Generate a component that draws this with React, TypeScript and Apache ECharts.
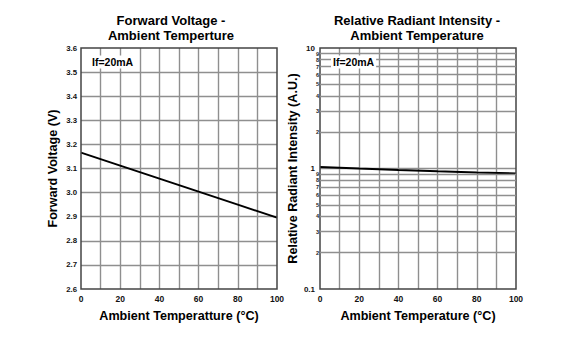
import React, { useEffect, useRef } from "react";
import * as echarts from "echarts";

const temps = [0, 20, 40, 60, 80, 100];
const forwardVoltage = [3.166, 3.112, 3.058, 3.004, 2.95, 2.896];
const relIntensity = [1.03, 1.0, 0.972, 0.948, 0.925, 0.91];
const logMinorValues = [0.2, 0.3, 0.4, 0.5, 0.6, 0.7, 0.8, 0.9, 2, 3, 4, 5, 6, 7, 8, 9];
const leftTitle = ["Forward Voltage -", "Ambient Temperture"];
const rightTitle = ["Relative Radiant Intensity -", "Ambient Temperature"];
const noteText = "If=20mA";

const FONT = '"Liberation Sans", Arial, sans-serif';
const GRID_COLOR = "#8f8f8f";
const GRID_WIDTH = 1.4;

export default function App() {
  const ref = useRef<HTMLDivElement>(null);
  useEffect(() => {
    document.body.style.margin = "0";
    const chart = echarts.init(ref.current!, null, { renderer: "svg" });
    const axisLabel = { fontFamily: FONT, fontWeight: "bold", color: "#111" };
    const nameStyle = { fontFamily: FONT, fontWeight: "bold", fontSize: 12.6, color: "#000" };
    const gridLine = { color: GRID_COLOR, width: GRID_WIDTH };
    const xAxisBase = (gridIndex: number, name: string) => ({
      type: "value",
      gridIndex,
      min: 0,
      max: 100,
      interval: 20,
      name,
      nameLocation: "middle",
      nameGap: 20,
      nameTextStyle: nameStyle,
      axisLine: { show: false },
      axisTick: { show: false },
      axisLabel: { ...axisLabel, fontSize: 8.5, margin: 5 },
      splitLine: { show: true, showMinLine: false, showMaxLine: false, lineStyle: gridLine },
      minorTick: { show: false, splitNumber: 2 },
      minorSplitLine: { show: true, lineStyle: gridLine },
    });
    const option: any = {
      animation: false,
      backgroundColor: "#fff",
      textStyle: { fontFamily: FONT },
      grid: [
        { left: 81, top: 48, width: 196, height: 241, show: true, z: 4, borderColor: "#444", borderWidth: 1.5, backgroundColor: "transparent" },
        { left: 320, top: 48, width: 196, height: 241, show: true, z: 4, borderColor: "#444", borderWidth: 1.5, backgroundColor: "transparent" },
      ],
      xAxis: [xAxisBase(0, "Ambient Temperatture (°C)"), xAxisBase(1, "Ambient Temperature (°C)")],
      yAxis: [
        {
          type: "value",
          gridIndex: 0,
          min: 2.6,
          max: 3.6,
          interval: 0.1,
          name: "Forward Voltage (V)",
          nameLocation: "middle",
          nameGap: 22,
          nameTextStyle: nameStyle,
          axisLine: { show: false },
          axisTick: { show: false },
          axisLabel: { ...axisLabel, fontSize: 7.8, margin: 4, formatter: (v: number) => v.toFixed(1) },
          splitLine: { show: true, showMinLine: false, showMaxLine: false, lineStyle: gridLine },
        },
        {
          type: "log",
          logBase: 10,
          gridIndex: 1,
          min: 0.1,
          max: 10,
          name: "Relative Radiant Intensity (A.U.)",
          nameLocation: "middle",
          nameGap: 17,
          nameTextStyle: nameStyle,
          axisLine: { show: false },
          axisTick: { show: false },
          axisLabel: { ...axisLabel, fontSize: 8, margin: 5, formatter: (v: number) => (v >= 1 ? String(Math.round(v)) : String(v)) },
          splitLine: { show: true, showMinLine: false, showMaxLine: false, lineStyle: gridLine },
        },
      ],
      series: [
        {
          type: "line",
          xAxisIndex: 0,
          yAxisIndex: 0,
          data: temps.map((t, i) => [t, forwardVoltage[i]]),
          symbol: "none",
          lineStyle: { color: "#000", width: 2 },
          z: 3,
        },
        {
          type: "line",
          xAxisIndex: 1,
          yAxisIndex: 1,
          data: [],
          z: 1,
          markLine: {
            silent: true,
            symbol: ["none", "none"],
            animation: false,
            lineStyle: { ...gridLine, type: "solid" },
            label: {
              show: true,
              position: "start",
              distance: 1,
              fontFamily: FONT,
              fontWeight: "bold",
              fontSize: 5.5,
              color: "#222",
              formatter: (p: any) => String(Math.round(p.value < 1 ? p.value * 10 : p.value)),
            },
            emphasis: { disabled: true },
            data: logMinorValues.map((v) => ({ yAxis: v })),
          },
        },
        {
          type: "line",
          xAxisIndex: 1,
          yAxisIndex: 1,
          data: temps.map((t, i) => [t, relIntensity[i]]),
          symbol: "none",
          lineStyle: { color: "#000", width: 2 },
          z: 3,
        },
      ],
      graphic: [
        {
          type: "text",
          x: 171,
          y: 28,
          style: { text: leftTitle.join("\n"), fontFamily: FONT, fontWeight: "bold", fontSize: 13, lineHeight: 15, fill: "#000", textAlign: "center", textVerticalAlign: "middle" },
        },
        {
          type: "text",
          x: 417,
          y: 28,
          style: { text: rightTitle.join("\n"), fontFamily: FONT, fontWeight: "bold", fontSize: 13, lineHeight: 15, fill: "#000", textAlign: "center", textVerticalAlign: "middle" },
        },
        {
          type: "text",
          x: 90,
          y: 62,
          z: 10,
          style: { text: noteText, fontFamily: FONT, fontWeight: "bold", fontSize: 10.5, fill: "#000", textVerticalAlign: "middle", backgroundColor: "#fff", padding: [1, 2] },
        },
        {
          type: "text",
          x: 331,
          y: 62,
          z: 10,
          style: { text: noteText, fontFamily: FONT, fontWeight: "bold", fontSize: 10.5, fill: "#000", textVerticalAlign: "middle", backgroundColor: "#fff", padding: [1, 2] },
        },
      ],
    };
    chart.setOption(option);
    return () => chart.dispose();
  }, []);
  return <div ref={ref} style={{ width: 571, height: 353 }} />;
}
